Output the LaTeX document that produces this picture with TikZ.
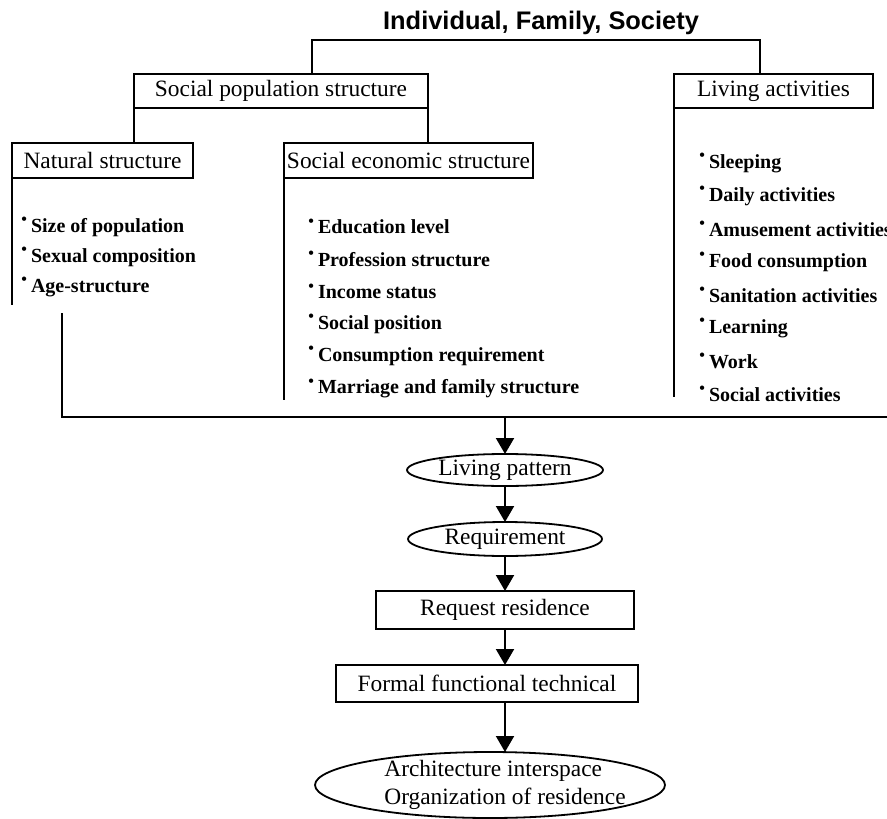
\documentclass[tikz,border=0pt]{standalone}
\usepackage{fontspec}
\setmainfont{Liberation Serif}
\newfontfamily\headfont{Liberation Sans}
\usetikzlibrary{arrows.meta,shapes.geometric}

\newcommand\itm{\raisebox{.38em}{\fontsize{8}{8}\selectfont\textbullet}\hspace{2pt}}

\tikzset{
  box/.style={draw, line width=0.9pt, inner sep=0pt, outer sep=0pt, font=\fontsize{11.7}{14}\selectfont},
  oval/.style={box, ellipse},
  item/.style={anchor=west, inner sep=0pt, font=\fontsize{10}{12}\selectfont\bfseries},
  link/.style={line width=1pt},
  arr/.style={line width=1pt, -{Triangle[width=9pt,length=8pt]}},
  every label/.style={font=\fontsize{11.7}{14}\selectfont, inner sep=0pt},
}

\begin{document}
\begin{tikzpicture}[x=0.5pt, y=-0.5pt]
\useasboundingbox (0,0) rectangle (887,818);

\node[font=\headfont\bfseries\fontsize{12.7}{15}\selectfont] (top) at (541,23) {Individual, Family, Society};
\coordinate (tl) at (312,40);
\coordinate (tr) at (760,40);

\node[box, anchor=west, minimum width=147pt, minimum height=17pt] (socpop) at (134,91) {Social population structure};
\node[box, anchor=west, minimum width=99.5pt, minimum height=17pt] (living) at (674,91) {Living activities};
\node[box, anchor=west, minimum width=90.5pt, minimum height=17.5pt] (natural) at (12,160.5) {Natural structure};
\node[box, anchor=west, minimum width=124.5pt, minimum height=17.5pt] (socecon) at (284,160.5) {Social economic structure};

% lists
\foreach \t [count=\i] in {Size of population, Sexual composition, Age-structure}
  \node[item] (nat\i) at (21,197+30*\i) {\itm\t};
\foreach \t [count=\i] in {Education level, Profession structure, Income status, Social position, Consumption requirement, Marriage and family structure}
  \node[item] (eco\i) at (308,194+32.4*\i) {\itm\t};
\foreach \t [count=\i] in {Sleeping, Daily activities, Amusement activities, Food consumption, Sanitation activities, Learning, Work, Social activities}
  \node[item] (act\i) at (699,130+33*\i) {\itm\t};

\coordinate (natend) at (12,305);
\coordinate (ecoend) at (284,400);
\coordinate (livend) at (674,397);
\coordinate (agetop) at (62,313);
\coordinate (busend) at (887,417);

\node[oval, minimum width=98pt, minimum height=16pt, label=center:Living pattern] (pattern) at (505,470) {};
\node[oval, minimum width=97pt, minimum height=17pt, label=center:Requirement] (requirement) at (505,539) {};
\node[box, minimum width=129pt, minimum height=19pt] (request) at (505,610) {Request residence};
\node[box, minimum width=151pt, minimum height=18.5pt] (formal) at (487,683.5) {Formal functional technical};
\node[oval, minimum width=175pt, minimum height=33pt,
  label={[align=left, xshift=7.5pt, font=\fontsize{11.7}{14}\selectfont]center:Architecture interspace\\Organization of residence}] (arch) at (490,785) {};

\draw[link] (socpop.north -| tl) |- (tr) -- (living.north -| tr);
\draw[link] (natural.north -| socpop.south west) -- (socpop.south west);
\draw[link] (socpop.south east) -- (socpop.south east |- socecon.north);
\draw[link] (natural.south west) -- (natend);
\draw[link] (socecon.south west) -- (ecoend);
\draw[link] (living.south west) -- (livend);
\draw[link] (agetop) |- (busend);

\draw[arr] (busend -| pattern) -- (pattern);
\draw[arr] (pattern) -- (requirement);
\draw[arr] (requirement) -- (request);
\draw[arr] (request) -- (request |- formal.north);
\draw[arr] (formal.south -| request) -- (request |- arch.north);
\end{tikzpicture}
\end{document}
